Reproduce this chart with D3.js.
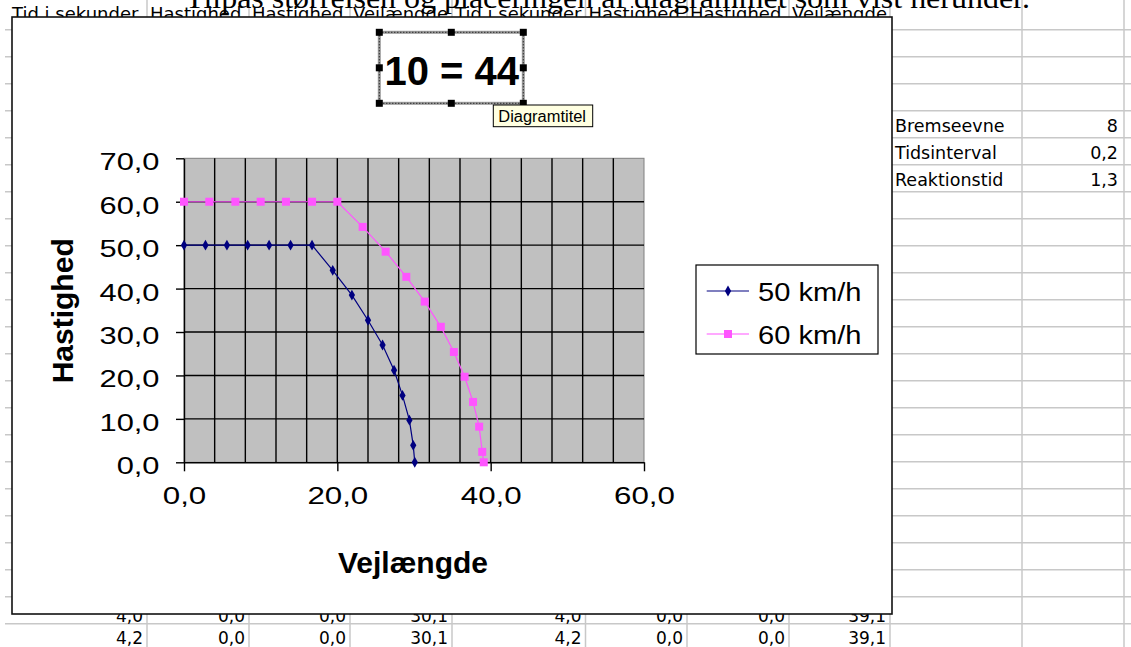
<!DOCTYPE html>
<html>
<head>
<meta charset="utf-8">
<script src="https://cdn.jsdelivr.net/npm/d3@7"></script>
<style>
  body { margin: 0; background: #fff; }
  svg { display: block; }
</style>
</head>
<body>
<svg width="1131" height="647"></svg>
<script>
// series: distance (m) and speed (km/h)
const dist50 = [0, 2.8, 5.6, 8.3, 11.1, 13.9, 16.7, 19.4, 21.9, 24.0, 25.9, 27.4, 28.5, 29.4, 29.9, 30.1];
const speed50 = [50, 50, 50, 50, 50, 50, 50, 44.2, 38.5, 32.7, 27.0, 21.2, 15.4, 9.7, 3.9, 0.0];
const dist60 = [0, 3.3, 6.7, 10.0, 13.3, 16.7, 20.0, 23.3, 26.3, 29.0, 31.4, 33.5, 35.2, 36.6, 37.7, 38.5, 38.9, 39.1];
const speed60 = [60, 60, 60, 60, 60, 60, 60, 54.2, 48.5, 42.7, 37.0, 31.2, 25.4, 19.7, 13.9, 8.2, 2.4, 0.0];
const seriesNames = ["50 km/h", "60 km/h"];
const xTicks = [0, 20, 40, 60];
const yTicks = [0, 10, 20, 30, 40, 50, 60, 70];
const chartTitle = "10 = 44";

// spreadsheet behind the chart
const headerCells = ["Tid i sekunder", "Hastighed", "Hastighed", "Vejlængde", "Tid i sekunder", "Hastighed", "Hastighed", "Vejlængde"];
const prevRow = ["4,0", "0,0", "0,0", "30,1", "4,0", "0,0", "0,0", "39,1"];
const lastRow = ["4,2", "0,0", "0,0", "30,1", "4,2", "0,0", "0,0", "39,1"];
const paramNames = ["Bremseevne", "Tidsinterval", "Reaktionstid"];
const paramValues = ["8", "0,2", "1,3"];

const svg = d3.select("svg");
const colX = [9, 147, 249, 350, 452, 585.5, 687, 789, 890, 1022, 1124];
const fmt = d => d.toFixed(1).replace(".", ",");

// sheet grid
const sheet = svg.append("g");
d3.range(29.7, 647, 27).forEach(y => {
  sheet.append("line").attr("x1", 5).attr("x2", 1131).attr("y1", y).attr("y2", y)
    .attr("stroke", "#c8c8c8").attr("stroke-width", 1.5);
});
colX.slice(1).forEach(x => {
  sheet.append("line").attr("x1", x).attr("x2", x).attr("y1", 0).attr("y2", 647)
    .attr("stroke", "#c8c8c8").attr("stroke-width", 1.5);
});

sheet.append("text")
  .attr("x", 185).attr("y", 8)
  .attr("textLength", 845).attr("lengthAdjust", "spacingAndGlyphs")
  .attr("font-family", "Liberation Serif").style("font-size", "30px")
  .text("Tilpas størrelsen og placeringen af diagrammet som vist herunder.");

headerCells.forEach((t, i) => {
  sheet.append("text").attr("x", colX[i] + 3).attr("y", 20)
    .attr("font-family", "DejaVu Sans").style("font-size", "18px").text(t);
});
prevRow.forEach((t, i) => {
  sheet.append("text").attr("x", colX[i + 1] - 4).attr("y", 622).attr("text-anchor", "end")
    .attr("font-family", "DejaVu Sans").style("font-size", "17px").text(t);
});
lastRow.forEach((t, i) => {
  sheet.append("text").attr("x", colX[i + 1] - 4).attr("y", 644).attr("text-anchor", "end")
    .attr("font-family", "DejaVu Sans").style("font-size", "17px").text(t);
});
paramNames.forEach((t, i) => {
  sheet.append("text").attr("x", 895).attr("y", 131.7 + 27 * i)
    .attr("font-family", "DejaVu Sans").style("font-size", "17.5px").text(t);
  sheet.append("text").attr("x", 1118).attr("y", 131.7 + 27 * i).attr("text-anchor", "end")
    .attr("font-family", "DejaVu Sans").style("font-size", "17.5px").text(paramValues[i]);
});

// chart area
svg.append("rect")
  .attr("x", 12).attr("y", 17).attr("width", 880).attr("height", 597)
  .attr("fill", "#fff").attr("stroke", "#111").attr("stroke-width", 1.6);

const x = d3.scaleLinear().domain([0, 60]).range([184, 644]);
const y = d3.scaleLinear().domain([0, 70]).range([462.3, 158.3]);

svg.append("rect")
  .attr("x", x(0)).attr("y", y(70))
  .attr("width", x(60) - x(0)).attr("height", y(0) - y(70))
  .attr("fill", "#c0c0c0").attr("stroke", "#808080").attr("stroke-width", 1);

const grid = svg.append("g").attr("stroke", "#000").attr("stroke-width", 1.4);
d3.range(4, 60, 4).forEach(v => {
  grid.append("line").attr("x1", x(v)).attr("x2", x(v)).attr("y1", y(0)).attr("y2", y(70));
});
d3.range(10, 70, 10).forEach(v => {
  grid.append("line").attr("x1", x(0)).attr("x2", x(60)).attr("y1", y(v)).attr("y2", y(v));
});

const yAxis = svg.append("g")
  .attr("transform", "translate(" + x(0) + ",0)")
  .call(d3.axisLeft(y).tickValues(yTicks).tickFormat(fmt).tickSize(8).tickSizeOuter(0));
const xAxis = svg.append("g")
  .attr("transform", "translate(0," + y(0) + ")")
  .call(d3.axisBottom(x).tickValues(xTicks).tickFormat(fmt).tickSize(9).tickSizeOuter(0));

[yAxis, xAxis].forEach(a => {
  a.select(".domain").attr("stroke", "#000").attr("stroke-width", 1.4);
  a.selectAll(".tick line").attr("stroke", "#000").attr("stroke-width", 1.4);
  a.selectAll("text")
    .attr("font-family", "Liberation Sans").style("font-size", "23px").attr("fill", "#000");
});
yAxis.selectAll("text")
  .attr("x", null).attr("dy", null)
  .attr("transform", "translate(-24.5,11.5) scale(1.34,1)");
xAxis.selectAll("text")
  .attr("y", null).attr("dy", null)
  .attr("transform", "translate(0,42) scale(1.36,1)");

svg.append("text")
  .attr("transform", "translate(73.3,310.8) rotate(-90)")
  .attr("text-anchor", "middle")
  .attr("font-family", "Liberation Sans").attr("font-weight", 700).style("font-size", "30px")
  .text("Hastighed");
svg.append("text")
  .attr("x", 413).attr("y", 573)
  .attr("text-anchor", "middle")
  .attr("font-family", "Liberation Sans").attr("font-weight", 700).style("font-size", "30px")
  .text("Vejlængde");

// series
const series = [
  { name: seriesNames[0], xs: dist50, ys: speed50, color: "#000080", shape: d3.symbolDiamond, size: 34 },
  { name: seriesNames[1], xs: dist60, ys: speed60, color: "#ff55ff", shape: d3.symbolSquare, size: 64 }
];
const line = d3.line().x(d => x(d[0])).y(d => y(d[1]));
series.forEach(s => {
  const pts = s.xs.map((v, i) => [v, s.ys[i]]);
  svg.append("path").datum(pts).attr("d", line)
    .attr("fill", "none").attr("stroke", s.color).attr("stroke-width", 1.2);
  svg.append("g").selectAll("path").data(pts).enter().append("path")
    .attr("transform", d => "translate(" + x(d[0]) + "," + y(d[1]) + ")")
    .attr("d", d3.symbol().type(s.shape).size(s.size))
    .attr("fill", s.color);
});

// legend
const legend = svg.append("g");
legend.append("rect")
  .attr("x", 696).attr("y", 265).attr("width", 182).attr("height", 89)
  .attr("fill", "#fff").attr("stroke", "#000").attr("stroke-width", 1.2);
series.forEach((s, i) => {
  const ly = 291 + 43 * i;
  legend.append("line").attr("x1", 706.7).attr("x2", 749).attr("y1", ly).attr("y2", ly)
    .attr("stroke", s.color).attr("stroke-width", 1.2);
  legend.append("path").attr("transform", "translate(728," + ly + ")")
    .attr("d", d3.symbol().type(s.shape).size(s.size)).attr("fill", s.color);
  legend.append("text")
    .attr("transform", "translate(758," + (ly + 9.5) + ") scale(1.12,1)")
    .attr("font-family", "Liberation Sans").style("font-size", "26px")
    .text(s.name);
});

// selected title with handles
const tb = { x: 379.3, y: 32.3, w: 144, h: 71 };
svg.append("text")
  .attr("x", 451.7).attr("y", 85)
  .attr("text-anchor", "middle")
  .attr("font-family", "Liberation Sans").attr("font-weight", 700).style("font-size", "40px")
  .text(chartTitle);
svg.append("rect").attr("x", tb.x).attr("y", tb.y).attr("width", tb.w).attr("height", tb.h)
  .attr("fill", "none").attr("stroke", "#999").attr("stroke-width", 3);
svg.append("rect").attr("x", tb.x).attr("y", tb.y).attr("width", tb.w).attr("height", tb.h)
  .attr("fill", "none").attr("stroke", "#000").attr("stroke-width", 1).attr("stroke-dasharray", "1,2");
[[0, 0], [0.5, 0], [1, 0], [0, 0.5], [1, 0.5], [0, 1], [0.5, 1], [1, 1]].forEach(p => {
  svg.append("rect")
    .attr("x", tb.x + p[0] * tb.w - 3.5).attr("y", tb.y + p[1] * tb.h - 3.5)
    .attr("width", 7).attr("height", 7).attr("fill", "#000");
});

svg.append("rect").attr("x", 493.3).attr("y", 105).attr("width", 99.4).attr("height", 21.7)
  .attr("fill", "#ffffe1").attr("stroke", "#000").attr("stroke-width", 1);
svg.append("text").attr("x", 498.3).attr("y", 121.5)
  .attr("textLength", 87.7).attr("lengthAdjust", "spacingAndGlyphs")
  .attr("font-family", "Liberation Sans").style("font-size", "16px")
  .text("Diagramtitel");
</script>
</body>
</html>
